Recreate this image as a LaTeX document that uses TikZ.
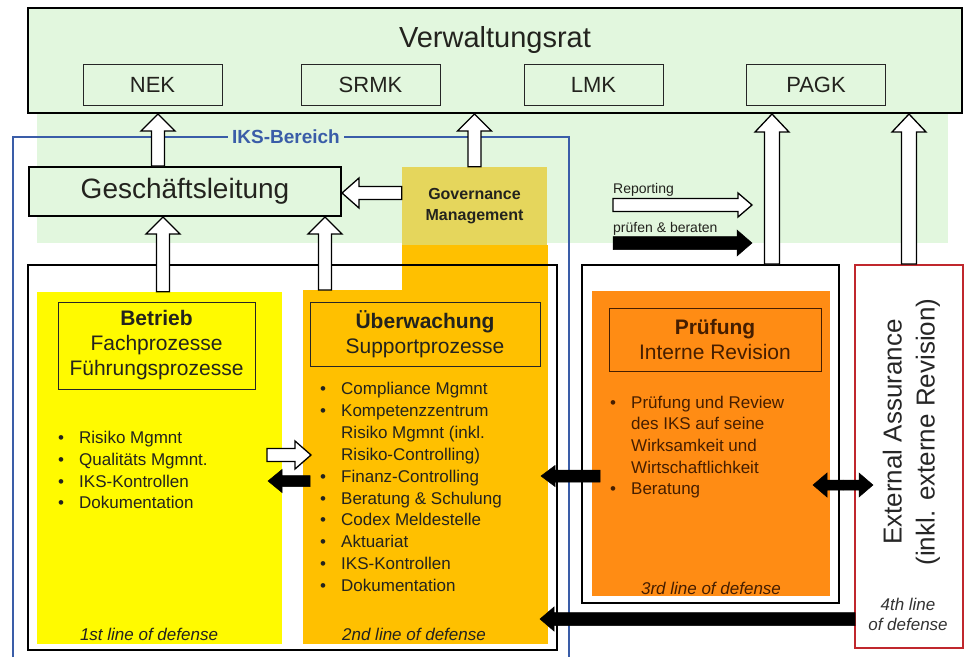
\documentclass[tikz,border=0pt]{standalone}
\usepackage{fontspec}
\setmainfont{Liberation Sans}
\usetikzlibrary{calc}
\definecolor{bggreen}{RGB}{226,247,222}
\definecolor{yel}{RGB}{255,250,0}
\definecolor{orb}{RGB}{255,192,0}
\definecolor{govc}{RGB}{229,214,92}
\definecolor{ordark}{RGB}{255,140,20}
\definecolor{extred}{RGB}{192,39,45}
\definecolor{iksblue}{RGB}{58,93,168}
\definecolor{textdark}{RGB}{35,35,30}
\definecolor{brown}{RGB}{70,30,0}
\newcommand\barrow[6]{\draw[#1] let \p1=#2, \p2=#3, \n1={atan2(\y2-\y1,\x2-\x1)}, \n2={veclen(\x2-\x1,\y2-\y1)}, \n3={\n2-#6} in [shift={(\p1)}, rotate=\n1] (0pt,-#4pt) -- (\n3,-#4pt) -- (\n3,-#5pt) -- (\n2,0pt) -- (\n3,#5pt) -- (\n3,#4pt) -- (0pt,#4pt) -- cycle;}
\newcommand\bu{\makebox[21pt][l]{\rule{0pt}{16pt}•}}
\tikzset{
  frame/.style={draw=black, line width=2pt, inner sep=0pt},
  thinbox/.style={draw=black!85, line width=1pt, inner sep=0pt},
  flat/.style={inner sep=0pt, draw=none},
  hol/.style={draw=black, fill=white, line width=1.3pt, line join=miter},
  blk/.style={draw=black, fill=black, line width=0.5pt, line join=miter},
  txt/.style={inner sep=0pt, text=textdark},
  listtxt/.style={inner sep=0pt, align=left, anchor=north west, text=textdark},
}
\begin{document}
\begin{tikzpicture}[x=1pt,y=-1pt]
\useasboundingbox (0,0) rectangle (965,657);
% green background
\fill[bggreen] (37,8) rectangle (948,243);
% Verwaltungsrat
\node[frame, fill=bggreen, minimum width=934pt, minimum height=105pt] (vr) at (495,60.5) {};
\node[txt, anchor=base, font=\fontsize{29}{34}\selectfont] (vrt) at (495,47) {Verwaltungsrat};
\foreach \nm/\lab/\cx in {nek/NEK/152.5, srmk/SRMK/370.5, lmk/LMK/593.5, pagk/PAGK/816}
  \node[thinbox, minimum width=139pt, minimum height=41pt, text=textdark, font=\fontsize{22}{26}\selectfont] (\nm) at (\cx,84.5) {\lab};
% IKS-Bereich
\draw[iksblue, line width=1.6pt] (13,657) -- (13,137) -- (569,137) -- (569,657);
\node[fill=bggreen, text=iksblue, inner xsep=4pt, inner ysep=1pt, font=\bfseries\fontsize{19}{22}\selectfont] (iks) at (286,137) {IKS-Bereich};
% Geschaeftsleitung
\node[frame, fill=bggreen, minimum width=312pt, minimum height=49pt, text=textdark, font=\fontsize{28}{32}\selectfont] (gl) at (185,191.5) {Geschäftsleitung};
% Governance
\node[flat, fill=govc, minimum width=145pt, minimum height=78pt, align=center, text=textdark, font=\bfseries\fontsize{16}{21}\selectfont] (gov) at (474.5,206) {Governance\\Management};
% columns
\fill[orb] (402,245) rectangle (548,291);
\node[flat, fill=orb, minimum width=245pt, minimum height=354pt] (or2) at (425.5,467) {};
\node[flat, fill=yel, minimum width=245pt, minimum height=352pt] (yelc) at (159.5,468) {};
\node[frame, minimum width=529pt, minimum height=385pt] (f12) at (292.5,457.5) {};
\node[thinbox, minimum width=197pt, minimum height=87pt, align=center, text=textdark, font=\fontsize{21}{25}\selectfont] (betr) at (156.5,345.5) {\textbf{Betrieb}\\Fachprozesse\\Führungsprozesse};
\node[thinbox, minimum width=230pt, minimum height=64pt, align=center, text=textdark, font=\fontsize{21}{25}\selectfont] (ueb) at (425,334) {\textbf{Überwachung}\\Supportprozesse};
\node[listtxt, font=\fontsize{17}{21.6}\selectfont] (l1) at (58,427.6) {\bu Risiko Mgmnt\\\bu Qualitäts Mgmnt.\\\bu IKS-Kontrollen\\\bu Dokumentation};
\node[listtxt, font=\fontsize{17}{21.9}\selectfont] (l2) at (320,378.3) {\bu Compliance Mgmnt\\\bu Kompetenzzentrum\\\hspace*{21pt}Risiko Mgmnt (inkl.\\\hspace*{21pt}Risiko-Controlling)\\\bu Finanz-Controlling\\\bu Beratung \& Schulung\\\bu Codex Meldestelle\\\bu Aktuariat\\\bu IKS-Kontrollen\\\bu Dokumentation};
\node[txt, anchor=base, font=\itshape\fontsize{17}{20}\selectfont] (d1) at (149,640) {1st line of defense};
\node[txt, anchor=base, font=\itshape\fontsize{17}{20}\selectfont] (d2) at (414,640) {2nd line of defense};
% 3rd line
\node[frame, minimum width=257pt, minimum height=338pt] (f3) at (710.5,434) {};
\node[flat, fill=ordark, minimum width=238pt, minimum height=305pt] (or3) at (711,443.5) {};
\node[thinbox, draw=brown, minimum width=212pt, minimum height=63pt, align=center, text=brown, font=\fontsize{21}{25}\selectfont] (pruef) at (715,339.5) {\textbf{Prüfung}\\Interne Revision};
\node[listtxt, text=brown, font=\fontsize{17}{21.6}\selectfont] (l3) at (610,392) {\bu Prüfung und Review\\\hspace*{21pt}des IKS auf seine\\\hspace*{21pt}Wirksamkeit und\\\hspace*{21pt}Wirtschaftlichkeit\\\bu Beratung};
\node[txt, text=brown, anchor=base, font=\itshape\fontsize{17}{20}\selectfont] (d3) at (711,594.5) {3rd line of defense};
% External
\node[draw=extred, line width=2pt, inner sep=0pt, minimum width=108pt, minimum height=383pt] (ext) at (909,456.5) {};
\node[rotate=90, align=center, inner sep=0pt, text=black!85, font=\fontsize{26}{33}\selectfont] (extt) at (911.5,432) {External Assurance\\(inkl. externe Revision)};
\node[txt, text=black!80, anchor=base, font=\itshape\fontsize{17}{20}\selectfont] (d4a) at (908,610) {4th line};
\node[txt, text=black!80, anchor=base, font=\itshape\fontsize{17}{20}\selectfont] (d4b) at (908,630) {of defense};
% legend
\node[txt, anchor=base west, font=\fontsize{14}{17}\selectfont] (rept) at (613,193) {Reporting};
\node[txt, anchor=base west, font=\fontsize{14}{17}\selectfont] (pbt) at (613,232) {prüfen \& beraten};
\coordinate (rep1) at (613,205); \coordinate (rep2) at (752,205);
\coordinate (pb1) at (613,243); \coordinate (pb2) at (752,243);
% connector coordinates
\coordinate (gvw) at ([yshift=13pt]gov.west);
\coordinate (glup) at ([xshift=5.5pt]nek.south |- gl.north);
\coordinate (yup) at ([xshift=3.5pt]yelc.north);
\coordinate (oup) at (325,290);
\coordinate (f3u) at ([xshift=61.5pt]f3.north);
\coordinate (h1) at (267,455); \coordinate (h2) at (311,455);
\coordinate (k1) at (310,481); \coordinate (k2) at (268,481);
\coordinate (r1) at (600,476); \coordinate (r2) at (541,476);
\coordinate (dm) at (843,485); \coordinate (dl) at (813,485); \coordinate (dr) at (873,485);
\coordinate (b1) at (855,619); \coordinate (b2) at (540,619);
% arrows
\barrow{hol}{(glup)}{(glup |- vr.south)}{6.5}{17}{17}
\barrow{hol}{(gov.north)}{(gov.north |- vr.south)}{6.5}{17}{17}
\barrow{hol}{(gvw)}{(gvw -| gl.east)}{6.5}{15}{17}
\barrow{hol}{(yup)}{(yup |- gl.south)}{6.5}{17}{17}
\barrow{hol}{(oup)}{(oup |- gl.south)}{6.5}{17}{17}
\barrow{hol}{(f3u)}{(f3u |- vr.south)}{7.5}{17}{18}
\barrow{hol}{(ext.north)}{(ext.north |- vr.south)}{7.5}{17}{18}
\barrow{hol}{(rep1)}{(rep2)}{6.5}{12}{14}
\barrow{blk}{(pb1)}{(pb2)}{6.5}{13}{15}
\barrow{hol}{(h1)}{(h2)}{6.5}{14}{16}
\barrow{blk}{(k1)}{(k2)}{5.5}{11.5}{14}
\barrow{blk}{(r1)}{(r2)}{6}{10.5}{14}
\barrow{blk}{(dm)}{(dl)}{5}{12}{14}
\barrow{blk}{(dm)}{(dr)}{5}{12}{14}
\barrow{blk}{(b1)}{(b2)}{6.5}{12}{14}
\end{tikzpicture}
\end{document}
